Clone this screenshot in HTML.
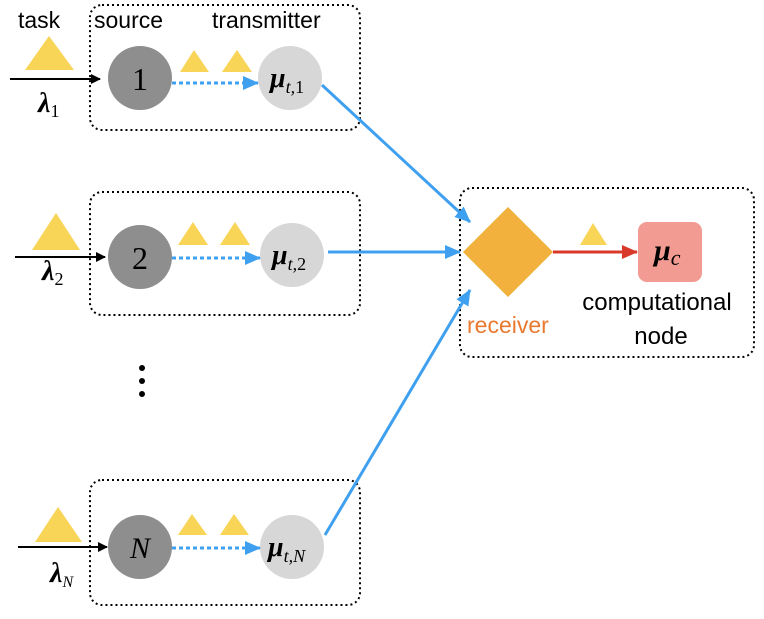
<!DOCTYPE html>
<html><head><style>
body{margin:0;background:#fff}
svg text{font-family:"Liberation Sans",sans-serif}
svg text.m{font-family:"Liberation Serif",serif;font-style:italic}
svg text.s{font-family:"Liberation Serif",serif}
</style></head><body>
<svg width="764" height="614" viewBox="0 0 764 614" xmlns="http://www.w3.org/2000/svg">
<defs>
<marker id="ab" markerWidth="10" markerHeight="10" refX="9" refY="5" orient="auto" markerUnits="userSpaceOnUse"><path d="M0,0 L10,5 L0,10 z" fill="#000"/></marker>
<marker id="bl" markerWidth="16" markerHeight="14" refX="15" refY="7" orient="auto" markerUnits="userSpaceOnUse"><path d="M0,0 L16,7 L0,14 z" fill="#3fa0f0"/></marker>
<marker id="rd" markerWidth="16" markerHeight="14" refX="15" refY="7" orient="auto" markerUnits="userSpaceOnUse"><path d="M0,0 L16,7 L0,14 z" fill="#d9392a"/></marker>
</defs>
<g fill="none" stroke="#000" stroke-width="2" stroke-dasharray="2,3">
<rect x="90" y="5" width="270" height="125" rx="12"/>
<rect x="90" y="192" width="270" height="123" rx="12"/>
<rect x="90" y="480" width="270" height="125" rx="12"/>
<rect x="460" y="188" width="294" height="169" rx="12"/>
</g>
<text x="18" y="28" font-size="23">task</text>
<text x="94" y="28" font-size="23">source</text>
<text x="212" y="28" font-size="23">transmitter</text>
<g fill="#f8d457">
<polygon points="25,70 49,36 74,70"/><polygon points="180,72 194,50 209,72"/><polygon points="222,72 237,50 252,72"/>
<polygon points="32,250 56,213 80,250"/><polygon points="178,245 193,222 208,245"/><polygon points="220,245 235,222 250,245"/>
<polygon points="35,542 58,507 82,542"/><polygon points="178,535 192,514 207,535"/><polygon points="220,535 234,514 249,535"/>
<polygon points="580,245 593,223 607,245"/>
</g>
<g stroke="#000" stroke-width="2" marker-end="url(#ab)">
<line x1="10" y1="79" x2="100" y2="79"/><line x1="15" y1="257" x2="105" y2="257"/><line x1="18" y1="547" x2="107" y2="547"/>
</g>
<text x="38" y="112" font-size="28" font-weight="bold" class="m">λ<tspan font-size="18" font-weight="normal" font-style="normal" dy="5">1</tspan></text>
<text x="42" y="280" font-size="28" font-weight="bold" class="m">λ<tspan font-size="18" font-weight="normal" font-style="normal" dy="5">2</tspan></text>
<text x="50" y="582" font-size="28" font-weight="bold" class="m">λ<tspan font-size="16" font-weight="normal" dy="5">N</tspan></text>
<g fill="#8e8e8e"><circle cx="140" cy="78" r="32"/><circle cx="140" cy="257" r="32"/><circle cx="140" cy="547" r="32"/></g>
<text x="140" y="90" font-size="32" text-anchor="middle" class="s">1</text>
<text x="140" y="269" font-size="32" text-anchor="middle" class="s">2</text>
<text x="140" y="558" font-size="30" text-anchor="middle" class="m">N</text>
<g fill="#d7d7d7"><circle cx="290" cy="78" r="32"/><circle cx="292" cy="255" r="32"/><circle cx="292" cy="547" r="32"/></g>
<text x="270" y="87" font-size="28" font-weight="bold" class="m">μ<tspan font-size="18" font-weight="normal" dy="6">t,</tspan><tspan font-style="normal" font-weight="normal" font-size="18">1</tspan></text>
<text x="272" y="264" font-size="28" font-weight="bold" class="m">μ<tspan font-size="18" font-weight="normal" dy="6">t,</tspan><tspan font-style="normal" font-weight="normal" font-size="18">2</tspan></text>
<text x="268" y="556" font-size="28" font-weight="bold" class="m">μ<tspan font-size="18" font-weight="normal" dy="6">t,N</tspan></text>
<g stroke="#3fa0f0" stroke-width="3" stroke-dasharray="4,3" marker-end="url(#bl)">
<line x1="172" y1="83" x2="258" y2="83"/><line x1="172" y1="258" x2="260" y2="258"/><line x1="172" y1="548" x2="260" y2="548"/>
</g>
<g fill="#000"><circle cx="142" cy="368" r="3"/><circle cx="142" cy="381" r="3"/><circle cx="142" cy="394" r="3"/></g>
<g stroke="#3fa0f0" stroke-width="3" marker-end="url(#bl)">
<line x1="322" y1="85" x2="470" y2="222"/><line x1="328" y1="252" x2="460" y2="252"/><line x1="325" y1="535" x2="470" y2="290"/>
</g>
<polygon points="463,252 508,207 553,252 508,297" fill="#f2b03c"/>
<line x1="553" y1="252" x2="637" y2="252" stroke="#d9392a" stroke-width="3" marker-end="url(#rd)"/>
<rect x="638" y="222" width="64" height="60" rx="9" fill="#f19b92"/>
<text x="654" y="260" font-size="30" font-weight="bold" class="m">μ<tspan font-size="22" font-weight="normal" dy="5">c</tspan></text>
<text x="467" y="333" font-size="23" fill="#e8792f">receiver</text>
<text x="657" y="310" font-size="24" text-anchor="middle">computational</text>
<text x="661" y="344" font-size="24" text-anchor="middle">node</text>
</svg>
</body></html>
